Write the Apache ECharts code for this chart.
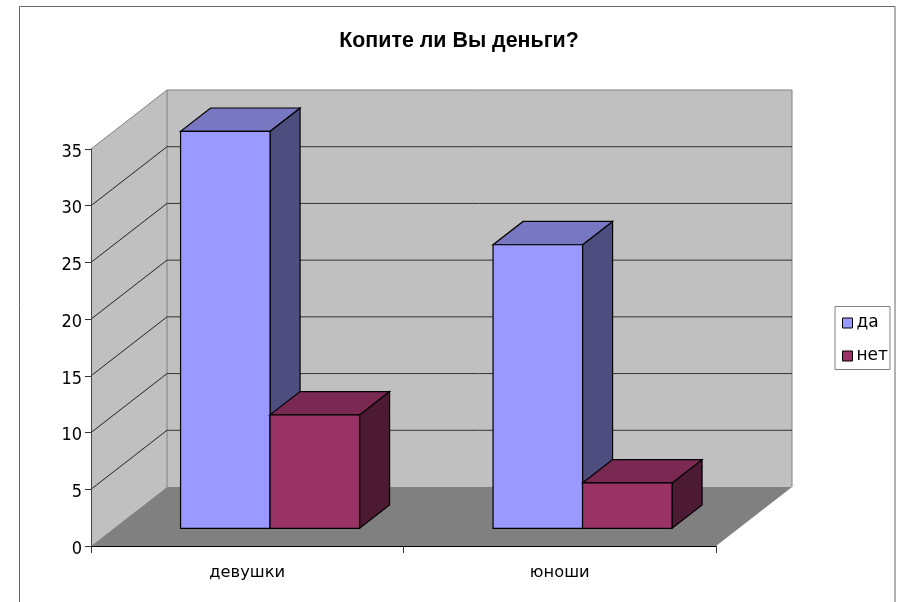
<!DOCTYPE html>
<html><head><meta charset="utf-8">
<style>html,body{margin:0;padding:0;background:#fff}#c{width:899px;height:602px}</style>
<script src="https://cdn.jsdelivr.net/npm/echarts@6/dist/echarts.min.js"></script>
</head><body><div id="c"></div>
<script>
const titleText = 'Копите ли Вы деньги?';
const categories = ['девушки', 'юноши'];
const seriesNames = ['да', 'нет'];
const yes = [35, 25];
const no = [10, 4];
const yTicks = [0, 5, 10, 15, 20, 25, 30, 35];

const DX = 76, DY = -59;
const BAR_FRAC = 0.2864, BASE_DEPTH = 0.3, BAR_DEPTH = 0.395;
const shade = {
  'да': { front: '#9999ff', top: '#7777c2', side: '#4d4d80' },
  'нет': { front: '#993366', top: '#7a2952', side: '#4d1a33' }
};
const poly = (pts, fill, stroke, lw) => ({
  type: 'polygon', shape: { points: pts },
  style: { fill: fill, stroke: stroke || 'none', lineWidth: lw || 0 }
});
const line = (a, b, stroke, lw) => ({
  type: 'line', shape: { x1: a[0], y1: a[1], x2: b[0], y2: b[1] },
  style: { stroke: stroke, lineWidth: lw }
});

function renderWalls(params, api) {
  const v = api.value(0);
  const band = api.size([1, 0])[0];
  const x0 = api.coord([0, 0])[0] - band / 2;
  const x1 = api.coord([categories.length - 1, 0])[0] + band / 2;
  const y = api.coord([0, v])[1];
  const children = [];
  if (v === 0) {
    const yb = y, yt = api.coord([0, yTicks[yTicks.length - 1]])[1];
    children.push(poly([[x0, yb], [x0 + DX, yb + DY], [x0 + DX, yt + DY], [x0, yt]], '#c0c0c0'));
    children.push(poly([[x0 + DX, yb + DY], [x1 + DX, yb + DY], [x1 + DX, yt + DY], [x0 + DX, yt + DY]], '#c0c0c0'));
    children.push(poly([[x0, yb], [x1, yb], [x1 + DX, yb + DY], [x0 + DX, yb + DY]], '#808080'));
    children.push(line([x0, yt], [x0 + DX, yt + DY], '#808080', 1));
    children.push(line([x0 + DX, yt + DY], [x1 + DX, yt + DY], '#808080', 1));
    children.push(line([x1 + DX, yt + DY], [x1 + DX, yb + DY], '#808080', 1));
    children.push(line([x0 + DX, yt + DY], [x0 + DX, yb + DY], '#808080', 1));
  } else if (v !== yTicks[yTicks.length - 1]) {
    children.push(line([x0, y], [x0 + DX, y + DY], '#222', 1));
    children.push(line([x0 + DX, y + DY], [x1 + DX, y + DY], '#333', 1));
  }
  return { type: 'group', children: children };
}

function barRenderer(seriesIndex) {
  const s = shade[seriesNames[seriesIndex]];
  return function (params, api) {
    const band = api.size([1, 0])[0];
    const c = api.coord([api.value(0), api.value(1)]);
    const base = api.coord([api.value(0), 0])[1];
    const w = band * BAR_FRAC;
    const ox = DX * BASE_DEPTH, oy = DY * BASE_DEPTH;
    const dx = DX * BAR_DEPTH, dy = DY * BAR_DEPTH;
    const l = c[0] - w + seriesIndex * w + ox, r = l + w;
    const t = c[1] + oy, b = base + oy;
    return {
      type: 'group',
      children: [
        poly([[r, b], [r + dx, b + dy], [r + dx, t + dy], [r, t]], s.side, '#000', 1.2),
        poly([[l, t], [r, t], [r + dx, t + dy], [l + dx, t + dy]], s.top, '#000', 1.2),
        poly([[l, t], [r, t], [r, b], [l, b]], s.front, '#000', 1.2)
      ]
    };
  };
}

const chart = echarts.init(document.getElementById('c'), null, { renderer: 'canvas' });
chart.setOption({
  animation: false,
  backgroundColor: '#fff',
  title: {
    text: titleText, left: 454, top: 26, textAlign: 'center',
    textStyle: { fontFamily: 'Liberation Sans', fontWeight: 'bold', fontSize: 21.4, color: '#000' }
  },
  legend: {
    data: seriesNames, orient: 'vertical', left: 835, top: 306.5, width: 55,
    padding: [8, 2, 5, 7], itemGap: 16, itemWidth: 10, itemHeight: 10,
    backgroundColor: '#fff', borderColor: '#808080', borderWidth: 1, borderRadius: 0,
    textStyle: { fontFamily: 'DejaVu Sans', fontSize: 17, color: '#000', padding: [0, 0, 0, -1] },
    icon: 'rect', itemStyle: { borderColor: '#000', borderWidth: 1 }
  },
  grid: { left: 91, right: 183, top: 149, bottom: 56 },
  xAxis: {
    type: 'category', data: categories, z: 5,
    axisLine: { lineStyle: { color: '#000', width: 1 } },
    axisTick: { show: true, alignWithLabel: false, length: 7, lineStyle: { color: '#333' } },
    axisLabel: { margin: 19, fontFamily: 'DejaVu Sans', fontSize: 16.3, color: '#000' },
    splitLine: { show: false }
  },
  yAxis: {
    type: 'value', min: 0, max: 35, interval: 5, z: 5,
    axisLine: { show: true, lineStyle: { color: '#444', width: 1 } },
    axisTick: { show: true, length: 6, lineStyle: { color: '#333' } },
    axisLabel: { margin: 9, fontFamily: 'DejaVu Sans Condensed', fontSize: 18, color: '#000', verticalAlign: 'top', lineHeight: 6 },
    splitLine: { show: false }
  },
  series: [
    { type: 'custom', name: 'walls', z: 1, silent: true, renderItem: renderWalls,
      encode: { y: 0 }, data: yTicks.map(v => [v]) },
    { type: 'custom', name: seriesNames[0], z: 2, renderItem: barRenderer(0),
      encode: { x: 0, y: 1 }, itemStyle: { color: shade['да'].front },
      data: yes.map((v, i) => [i, v]) },
    { type: 'custom', name: seriesNames[1], z: 2, renderItem: barRenderer(1),
      encode: { x: 0, y: 1 }, itemStyle: { color: shade['нет'].front },
      data: no.map((v, i) => [i, v]) }
  ],
  graphic: [{
    type: 'rect', silent: true, z: 0, zlevel: 0,
    shape: { x: 19.5, y: 6.5, width: 875.5, height: 640 },
    style: { fill: 'none', stroke: '#666', lineWidth: 1 }
  }]
});
</script></body></html>
